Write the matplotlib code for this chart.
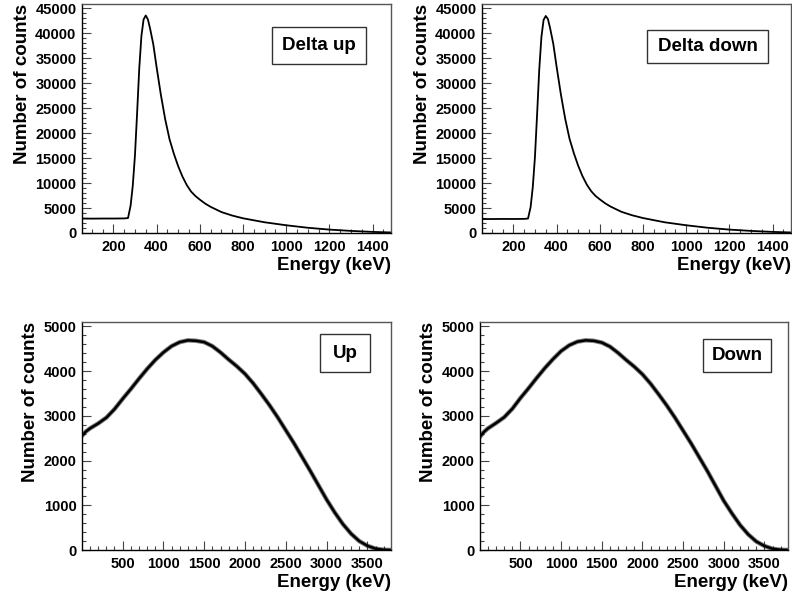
import matplotlib
matplotlib.use("Agg")
import matplotlib.pyplot as plt
from matplotlib.ticker import MultipleLocator
from matplotlib.patches import Rectangle

plt.rcParams['font.family'] = ['Liberation Sans', 'DejaVu Sans']
plt.rcParams['font.weight'] = 'bold'

# ---- data ----
delta_energy = [55, 100, 150, 200, 250, 268, 280, 290, 300, 310, 320, 330, 340, 350,
                360, 370, 385, 400, 420, 440, 460, 480, 500, 520, 540, 560, 580, 600,
                625, 650, 700, 750, 800, 900, 1000, 1100, 1200, 1300, 1400, 1485]
delta_up_counts = [2900, 2880, 2900, 2900, 2920, 3000, 5500, 9500, 15500, 24000, 33000,
                   39500, 42800, 43600, 42800, 41000, 37800, 33300, 27700, 22800, 18800,
                   15900, 13400, 11300, 9600, 8300, 7400, 6700, 5900, 5250, 4200, 3500,
                   2950, 2150, 1550, 1050, 680, 420, 220, 110]
delta_down_counts = [2800, 2800, 2820, 2810, 2830, 2900, 5200, 9200, 15200, 23800, 32800,
                     39300, 42700, 43500, 42900, 41100, 37900, 33400, 27800, 22900, 18900,
                     16000, 13500, 11400, 9700, 8400, 7450, 6750, 5950, 5300, 4250, 3550,
                     3000, 2150, 1550, 1050, 680, 420, 220, 110]

full_energy = [0, 50, 100, 200, 300, 400, 500, 600, 700, 800, 900, 1000, 1100, 1200,
               1300, 1400, 1500, 1600, 1700, 1800, 1900, 2000, 2100, 2200, 2300, 2400,
               2500, 2600, 2700, 2800, 2900, 3000, 3100, 3200, 3300, 3400, 3500, 3600,
               3700, 3790]
up_counts = [2550, 2650, 2720, 2830, 2960, 3150, 3380, 3600, 3830, 4050, 4250, 4420, 4560,
             4650, 4690, 4680, 4650, 4560, 4420, 4260, 4110, 3940, 3730, 3490, 3240, 2970,
             2680, 2390, 2080, 1770, 1450, 1130, 840, 580, 365, 200, 95, 30, 5, 0]
down_counts = [2530, 2640, 2720, 2840, 2970, 3160, 3400, 3620, 3850, 4070, 4270, 4450, 4580,
               4660, 4690, 4680, 4640, 4550, 4410, 4250, 4100, 3930, 3720, 3480, 3230, 2960,
               2670, 2380, 2070, 1760, 1430, 1100, 820, 560, 350, 190, 90, 28, 5, 0]

labels = ["Delta up", "Delta down", "Up", "Down"]

W, H = 792, 599
fig = plt.figure(figsize=(W / 100, H / 100), dpi=100)

def add_ax(left, right, top, bottom):
    return fig.add_axes([left / W, 1 - bottom / H, (right - left) / W, (bottom - top) / H])

axes = [add_ax(82, 391, 4, 233), add_ax(482, 791, 4, 233),
        add_ax(82, 391, 322, 550), add_ax(480, 788, 322, 550)]

boxes = [(0.615, 0.919, 0.738, 0.900), (0.534, 0.926, 0.742, 0.886),
         (0.770, 0.932, 0.781, 0.947), (0.724, 0.945, 0.781, 0.925)]

series = [(delta_energy, delta_up_counts), (delta_energy, delta_down_counts),
          (full_energy, up_counts), (full_energy, down_counts)]

for i, ax in enumerate(axes):
    x, y = series[i]
    top = i < 2
    if top:
        ax.plot(x, y, color='black', lw=1.3, solid_joinstyle='round')
        ax.set_xlim(55, 1485)
        ax.set_ylim(0, 45900)
        ax.xaxis.set_major_locator(MultipleLocator(200))
        ax.xaxis.set_minor_locator(MultipleLocator(50))
        ax.yaxis.set_major_locator(MultipleLocator(5000))
        ax.yaxis.set_minor_locator(MultipleLocator(1000))
    else:
        ax.plot(x, y, color='#111111', lw=3.2, solid_joinstyle='round', alpha=0.55)
        ax.plot(x, y, color='black', lw=1.8, solid_joinstyle='round')
        ax.set_xlim(2, 3790)
        ax.set_ylim(0, 5100)
        ax.xaxis.set_major_locator(MultipleLocator(500))
        ax.xaxis.set_minor_locator(MultipleLocator(100))
        ax.yaxis.set_major_locator(MultipleLocator(1000))
        ax.yaxis.set_minor_locator(MultipleLocator(200))
    ax.tick_params(which='both', direction='in', top=False, right=False, width=0.8,
                   color='#444444')
    ax.tick_params(which='major', length=6.5, labelsize=10.5, pad=4)
    ax.tick_params(which='minor', length=3.2)
    ax.tick_params(axis='x', which='major', pad=5)
    for s in ax.spines.values():
        s.set_linewidth(1.0)
        s.set_color('black')
    ax.spines['top'].set_color('#555555')
    ax.spines['right'].set_color('#555555')
    ax.set_xlabel("Energy (keV)", fontsize=13.5, fontweight='bold', loc='right', labelpad=2)
    ax.set_ylabel("Number of counts", fontsize=13.5, fontweight='bold', loc='top', labelpad=3)
    x0, x1, y0, y1 = boxes[i]
    ax.add_patch(Rectangle((x0, y0), x1 - x0, y1 - y0, transform=ax.transAxes,
                           facecolor='white', edgecolor='#333333', lw=1.0, zorder=5))
    ax.text((x0 + x1) / 2, (y0 + y1) / 2, labels[i], transform=ax.transAxes,
            ha='center', va='center', fontsize=13.5, fontweight='bold', zorder=6)

fig.savefig("out.png", dpi=100)
